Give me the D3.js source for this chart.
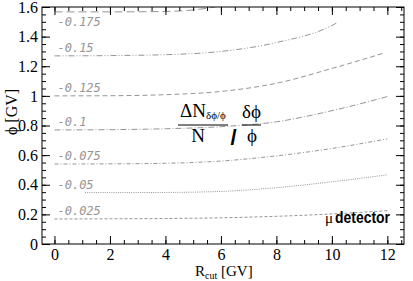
<!DOCTYPE html>
<html>
<head>
<meta charset="utf-8">
<script src="https://cdn.jsdelivr.net/npm/d3@7"></script>
<style>
  html, body { margin: 0; padding: 0; background: #fff; }
  svg { display: block; }
  .tick text { font-family: "Liberation Serif", serif; font-size: 16px; fill: #000; }
</style>
</head>
<body>
<div id="chart"></div>
<script>
// contour levels and their curves phi(Rcut)
const levels = ['-0.175', '-0.15', '-0.125', '-0.1', '-0.075', '-0.05', '-0.025'];
const rcut175 = [0, 2, 4, 5, 5.8];
const phi175  = [1.567, 1.567, 1.570, 1.580, 1.600];
const rcut150 = [0, 2, 4, 6, 8, 10, 10.2];
const phi150  = [1.270, 1.272, 1.278, 1.300, 1.360, 1.475, 1.495];
const rcut125 = [0, 2, 4, 6, 8, 10, 11.9];
const phi125  = [1.000, 1.001, 1.008, 1.030, 1.085, 1.185, 1.290];
const rcut100 = [0, 2, 4, 6, 8, 10, 12];
const phi100  = [0.770, 0.772, 0.778, 0.792, 0.825, 0.900, 0.995];
const rcut075 = [0, 2, 4, 6, 8, 10, 12];
const phi075  = [0.540, 0.541, 0.545, 0.560, 0.595, 0.645, 0.710];
const rcut050 = [1.1, 2, 4, 6, 8, 10, 12];
const phi050  = [0.347, 0.347, 0.348, 0.355, 0.380, 0.420, 0.467];
const rcut025 = [0, 2, 4, 6, 8, 10, 12];
const phi025  = [0.169, 0.170, 0.172, 0.177, 0.187, 0.203, 0.225];

const xTicks = [0, 2, 4, 6, 8, 10, 12];
const yTicks = [0, 0.2, 0.4, 0.6, 0.8, 1, 1.2, 1.4, 1.6];

const width = 413, height = 281;
const padL = 42, padR = 404, padT = 7, padB = 244;

const svg = d3.select('#chart').append('svg')
    .attr('width', width)
    .attr('height', height);

const x = d3.scaleLinear().domain([-0.45, 12.6]).range([padL, padR]);
const y = d3.scaleLinear().domain([0, 1.6]).range([padB, padT]);

svg.append('defs').append('clipPath').attr('id', 'plot')
    .append('rect').attr('x', padL).attr('y', padT)
    .attr('width', padR - padL).attr('height', padB - padT);

// curves
const curves = [
    [rcut175, phi175, '8,4'],
    [rcut150, phi150, '6,2,1,2,1,2'],
    [rcut125, phi125, '5,3'],
    [rcut100, phi100, '6,2,1,2'],
    [rcut075, phi075, '4,2,1,2'],
    [rcut050, phi050, '1,1.2'],
    [rcut025, phi025, '3,2']
];

const line = d3.line()
    .x(d => x(d[0]))
    .y(d => y(d[1]))
    .curve(d3.curveMonotoneX);

const g = svg.append('g').attr('clip-path', 'url(#plot)');
curves.forEach(c => {
    const pts = c[0].map((r, i) => [r, c[1][i]]);
    g.append('path')
        .attr('d', line(pts))
        .attr('fill', 'none')
        .attr('stroke', '#959595')
        .attr('stroke-width', 1)
        .attr('stroke-dasharray', c[2]);
});

// level labels next to the start of each curve (the top one sits below its line)
levels.forEach((lab, i) => {
    const y0 = y(curves[i][1][0]);
    svg.append('text')
        .attr('x', x(0) + 3)
        .attr('y', i === 0 ? y0 + 14 : y0 - 4)
        .attr('font-family', '"DejaVu Sans Mono", monospace')
        .attr('font-style', 'italic')
        .attr('font-size', 12)
        .attr('fill', '#959595')
        .text(lab);
});

// axes, ROOT style: ticks inside on all four sides
const xMinor = d3.range(0, 12.51, 0.5);
const yMinor = d3.range(0, 1.601, 0.05);

function ticksOnly(axis) { return sel => { sel.call(axis); sel.select('.domain').remove(); }; }

svg.append('g').attr('transform', `translate(0,${padB})`)
    .call(ticksOnly(d3.axisBottom(x).tickValues(xMinor).tickSize(-4).tickFormat('')));
svg.append('g').attr('transform', `translate(0,${padB})`)
    .call(ticksOnly(d3.axisBottom(x).tickValues(xTicks).tickSize(-8).tickPadding(5).tickFormat(d3.format('d'))));
svg.append('g').attr('transform', `translate(0,${padT})`)
    .call(ticksOnly(d3.axisTop(x).tickValues(xMinor).tickSize(-4).tickFormat('')));
svg.append('g').attr('transform', `translate(0,${padT})`)
    .call(ticksOnly(d3.axisTop(x).tickValues(xTicks).tickSize(-8).tickFormat('')));

svg.append('g').attr('transform', `translate(${padL},0)`)
    .call(ticksOnly(d3.axisLeft(y).tickValues(yMinor).tickSize(-4).tickFormat('')));
svg.append('g').attr('transform', `translate(${padL},0)`)
    .call(ticksOnly(d3.axisLeft(y).tickValues(yTicks).tickSize(-8).tickPadding(4).tickFormat(d => String(+d.toFixed(1)))));
svg.append('g').attr('transform', `translate(${padR},0)`)
    .call(ticksOnly(d3.axisRight(y).tickValues(yMinor).tickSize(-4).tickFormat('')));
svg.append('g').attr('transform', `translate(${padR},0)`)
    .call(ticksOnly(d3.axisRight(y).tickValues(yTicks).tickSize(-8).tickFormat('')));

svg.selectAll('.tick line').attr('stroke', '#000');

// frame
svg.append('rect')
    .attr('x', padL).attr('y', padT)
    .attr('width', padR - padL).attr('height', padB - padT)
    .attr('fill', 'none').attr('stroke', '#000').attr('stroke-width', 1);

const serif = '"Liberation Serif", serif';

// axis titles
const xt = svg.append('text')
    .attr('x', 195).attr('y', 276)
    .attr('font-family', serif)
    .attr('font-size', 15);
xt.append('tspan').text('R');
xt.append('tspan').attr('font-size', 10).attr('dy', 3).text('cut');
xt.append('tspan').attr('dy', -3).text(' [GV]');

svg.append('text')
    .attr('transform', 'translate(17,112) rotate(-90)')
    .attr('text-anchor', 'middle')
    .attr('font-family', serif)
    .attr('font-size', 16)
    .text('\u03d5 [GV]');

// formula
const f1 = svg.append('text').attr('x', 180).attr('y', 117)
    .attr('font-family', serif).attr('font-size', 19);
f1.append('tspan').text('\u0394N');
f1.append('tspan').attr('font-size', 11).attr('dy', 2).text('\u03b4\u03d5/\u03d5');
svg.append('line').attr('x1', 178).attr('x2', 228).attr('y1', 125).attr('y2', 125)
    .attr('stroke', '#000').attr('stroke-width', 1);
svg.append('text').attr('x', 198).attr('y', 142).attr('text-anchor', 'middle')
    .attr('font-family', serif).attr('font-size', 19).text('N');
svg.append('text').attr('x', 233.5).attr('y', 145).attr('text-anchor', 'middle')
    .attr('font-family', '"Liberation Sans", sans-serif').attr('font-weight', 'bold')
    .attr('font-size', 22).text('/');
svg.append('text').attr('x', 251.5).attr('y', 118).attr('text-anchor', 'middle')
    .attr('font-family', serif).attr('font-size', 19).text('\u03b4\u03d5');
svg.append('line').attr('x1', 242).attr('x2', 261).attr('y1', 125).attr('y2', 125)
    .attr('stroke', '#000').attr('stroke-width', 1);
svg.append('text').attr('x', 252).attr('y', 142).attr('text-anchor', 'middle')
    .attr('font-family', serif).attr('font-size', 19).text('\u03d5');

// detector label
svg.append('text').attr('x', 325).attr('y', 223)
    .attr('font-family', serif).attr('font-size', 15).text('\u03bc');
svg.append('text').attr('x', 335).attr('y', 223)
    .attr('font-family', '"Liberation Sans", sans-serif')
    .attr('font-weight', 'bold').attr('font-size', 16)
    .attr('textLength', 55).attr('lengthAdjust', 'spacingAndGlyphs')
    .text('detector');
</script>
</body>
</html>
